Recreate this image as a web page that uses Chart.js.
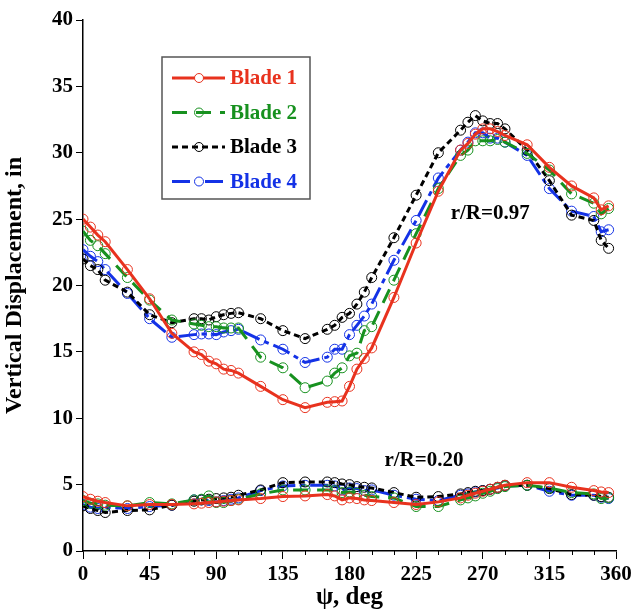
<!DOCTYPE html>
<html>
<head>
<meta charset="utf-8">
<script src="https://cdn.jsdelivr.net/npm/chart.js@4.4.1/dist/chart.umd.min.js"></script>
<style>
  html, body { margin: 0; padding: 0; background: #fff; }
</style>
</head>
<body>
<canvas id="chart" width="640" height="613"></canvas>
<script>
// azimuth, deg
const psi = [0, 5, 10, 15, 30, 45, 60, 75, 80, 85, 90, 95, 100, 105, 120, 135, 150, 165, 170, 175,
             180, 185, 190, 195, 210, 225, 240, 255, 260, 265, 270, 275, 280, 285, 300, 315, 330, 345, 350, 355];

// r/R = 0.97
const blade1Tip = [25.0, 24.4, 23.8, 23.3, 21.2, 19.0, 16.4, 15.0, 14.8, 14.3, 14.1, 13.7, 13.6, 13.4, 12.4, 11.4, 10.8, 11.2, 11.25, 11.3,
                   12.4, 13.7, 14.5, 15.3, 19.1, 23.2, 27.1, 30.2, 30.7, 31.4, 31.8, 31.8, 31.6, 31.3, 30.6, 28.9, 27.5, 26.6, 25.7, 26.0];
const blade2Tip = [24.1, 23.4, 23.0, 22.4, 20.6, 18.9, 17.4, 17.1, 17.0, 16.9, 16.9, 16.8, 16.8, 16.8, 14.6, 13.8, 12.3, 12.8, 13.4, 13.8,
                   14.7, 14.9, 16.6, 16.9, 20.4, 23.9, 27.3, 29.8, 30.2, 30.9, 30.9, 30.9, 31.0, 30.8, 29.95, 28.7, 26.9, 26.2, 25.4, 25.8];
const blade3Tip = [22.0, 21.5, 21.2, 20.4, 19.5, 17.8, 17.2, 17.5, 17.5, 17.4, 17.65, 17.8, 17.9, 17.95, 17.5, 16.6, 16.0, 16.7, 17.0, 17.6,
                   17.9, 18.6, 19.5, 20.6, 23.6, 26.8, 30.0, 31.7, 32.3, 32.8, 32.4, 32.2, 32.2, 31.8, 30.2, 27.9, 25.3, 24.9, 23.4, 22.8];
const blade4Tip = [22.7, 22.2, 21.8, 21.2, 19.4, 17.5, 16.1, 16.3, 16.35, 16.35, 16.3, 16.5, 16.6, 16.7, 15.9, 15.2, 14.2, 14.6, 15.2, 15.2,
                   16.3, 17.0, 17.7, 18.6, 21.9, 24.9, 28.1, 30.2, 30.8, 31.5, 31.5, 31.1, 31.1, 30.8, 29.8, 27.3, 25.6, 25.2, 24.05, 24.2];

// r/R = 0.20
const blade1Root = [4.1, 3.9, 3.75, 3.65, 3.4, 3.5, 3.5, 3.55, 3.6, 3.65, 3.7, 3.75, 3.8, 3.85, 3.95, 4.1, 4.15, 4.25, 4.15, 3.85,
                    4.0, 3.95, 3.85, 3.8, 3.65, 3.5, 3.7, 4.0, 4.2, 4.35, 4.5, 4.65, 4.8, 4.95, 5.15, 5.15, 4.8, 4.55, 4.45, 4.4];
const blade2Root = [3.8, 3.6, 3.55, 3.45, 3.4, 3.65, 3.55, 3.85, 3.9, 4.15, 3.65, 3.65, 3.8, 3.9, 4.3, 4.6, 4.6, 4.6, 4.55, 4.4,
                    4.45, 4.35, 4.2, 4.1, 4.0, 3.35, 3.35, 3.85, 4.0, 4.15, 4.35, 4.5, 4.7, 4.85, 4.95, 4.75, 4.4, 4.3, 3.95, 4.0];
const blade3Root = [3.4, 3.2, 3.05, 2.9, 3.05, 3.1, 3.45, 3.75, 3.85, 3.9, 3.95, 4.0, 4.05, 4.2, 4.6, 5.15, 5.2, 5.2, 5.15, 5.05,
                    5.0, 4.85, 4.8, 4.75, 4.4, 4.05, 4.1, 4.3, 4.4, 4.5, 4.55, 4.65, 4.8, 4.95, 4.95, 4.7, 4.25, 4.2, 4.1, 4.05];
const blade4Root = [3.5, 3.3, 3.2, 3.3, 3.2, 3.35, 3.45, 3.85, 3.85, 3.8, 3.7, 3.8, 3.9, 4.0, 4.55, 4.9, 4.95, 4.95, 4.9, 4.6,
                    4.75, 4.7, 4.55, 4.6, 4.2, 3.9, 3.8, 4.2, 4.3, 4.45, 4.55, 4.65, 4.75, 4.9, 4.95, 4.5, 4.2, 4.2, 4.05, 3.95];

const bladeNames = ['Blade 1', 'Blade 2', 'Blade 3', 'Blade 4'];
const stationLabels = ['r/R=0.97', 'r/R=0.20'];

const serif = "'Liberation Serif', 'Times New Roman', serif";
const styles = [
  { color: '#e8321e', dash: [] },
  { color: '#17911f', dash: [15, 9] },
  { color: '#000000', dash: [6, 4] },
  { color: '#1432e6', dash: [18, 5, 5, 5] }
];

const toXY = ys => psi.map((x, i) => ({ x: x, y: ys[i] }));

function makeSet(name, ys, s) {
  return {
    label: name,
    data: toXY(ys),
    borderColor: s.color,
    borderDash: s.dash,
    borderWidth: 3,
    pointRadius: 5,
    pointBorderWidth: 1,
    pointBorderColor: s.color,
    pointBackgroundColor: 'rgba(0,0,0,0)',
    fill: false,
    tension: 0
  };
}

const tips = [blade1Tip, blade2Tip, blade3Tip, blade4Tip];
const roots = [blade1Root, blade2Root, blade3Root, blade4Root];
const datasets = [];
tips.forEach((ys, i) => datasets.push(makeSet(bladeNames[i], ys, styles[i])));
roots.forEach((ys, i) => datasets.push(makeSet(bladeNames[i], ys, styles[i])));

// minor x ticks, station labels and the boxed legend
const extras = {
  id: 'extras',
  afterDraw(chart) {
    const ctx = chart.ctx;
    const xs = chart.scales.x, ys = chart.scales.y;
    const y0 = chart.chartArea.bottom;
    ctx.save();
    ctx.strokeStyle = '#000';
    ctx.lineWidth = 1;
    for (let v = 15; v < 360; v += 15) {
      if (v % 45 === 0) continue;
      const px = Math.round(xs.getPixelForValue(v)) + 0.5;
      ctx.beginPath();
      ctx.moveTo(px, y0);
      ctx.lineTo(px, y0 + 4);
      ctx.stroke();
    }
    ctx.fillStyle = '#000';
    ctx.font = 'bold 21px ' + serif;
    ctx.textAlign = 'center';
    ctx.textBaseline = 'middle';
    ctx.fillText(stationLabels[0], xs.getPixelForValue(275), ys.getPixelForValue(25.4));
    ctx.fillText(stationLabels[1], xs.getPixelForValue(230.3), ys.getPixelForValue(6.8));

    const bx = 162, by = 57, bw = 148, bh = 142;
    ctx.strokeStyle = '#555';
    ctx.lineWidth = 1.5;
    ctx.fillStyle = '#fff';
    ctx.fillRect(bx, by, bw, bh);
    ctx.strokeRect(bx, by, bw, bh);
    ctx.textAlign = 'left';
    ctx.font = 'bold 21px ' + serif;
    for (let i = 0; i < 4; i++) {
      const ry = 78 + i * 34.5;
      const s = styles[i];
      ctx.strokeStyle = s.color;
      ctx.lineWidth = 3;
      ctx.setLineDash(s.dash);
      ctx.beginPath();
      ctx.moveTo(172, ry);
      ctx.lineTo(225, ry);
      ctx.stroke();
      ctx.setLineDash([]);
      ctx.lineWidth = 1;
      ctx.beginPath();
      ctx.arc(199, ry, 4.5, 0, Math.PI * 2);
      ctx.fillStyle = (i === 0 || i === 3) ? '#fff' : 'rgba(0,0,0,0)';
      ctx.fill();
      ctx.stroke();
      ctx.fillStyle = s.color;
      ctx.fillText(bladeNames[i], 230, ry + 1);
    }
    ctx.restore();
  }
};

const tickFont = { family: serif, size: 21, weight: 'bold' };

new Chart(document.getElementById('chart'), {
  type: 'line',
  data: { datasets: datasets },
  options: {
    responsive: false,
    animation: false,
    layout: { padding: { left: 0, right: 24, top: 20, bottom: 0 } },
    plugins: {
      legend: { display: false },
      tooltip: { enabled: false }
    },
    scales: {
      x: {
        type: 'linear',
        min: 0,
        max: 360,
        afterFit: s => { s.height = 62; },
        ticks: {
          stepSize: 15,
          autoSkip: false,
          maxRotation: 0,
          color: '#000',
          padding: 3,
          font: tickFont,
          callback: v => (v % 45 === 0 ? String(v) : '')
        },
        grid: {
          drawOnChartArea: false,
          tickLength: 8,
          color: c => (c.tick && c.tick.value % 45 === 0 ? '#000' : 'rgba(0,0,0,0)')
        },
        border: { color: '#000', width: 1.5 },
        title: { display: true, text: 'ψ, deg', color: '#000', font: { family: serif, size: 25, weight: 'bold' }, padding: { top: 0, bottom: 0 } }
      },
      y: {
        min: 0,
        max: 40,
        afterFit: s => { s.width = 83; },
        ticks: { stepSize: 5, color: '#000', padding: 3, font: tickFont },
        grid: { drawOnChartArea: false, tickLength: 7, color: '#000' },
        border: { color: '#000', width: 1.5 },
        title: { display: true, text: 'Vertical Displacement, in', color: '#000', font: { family: serif, size: 24, weight: 'bold' }, padding: { top: 0, bottom: 2 } }
      }
    }
  },
  plugins: [extras]
});
</script>
</body>
</html>
